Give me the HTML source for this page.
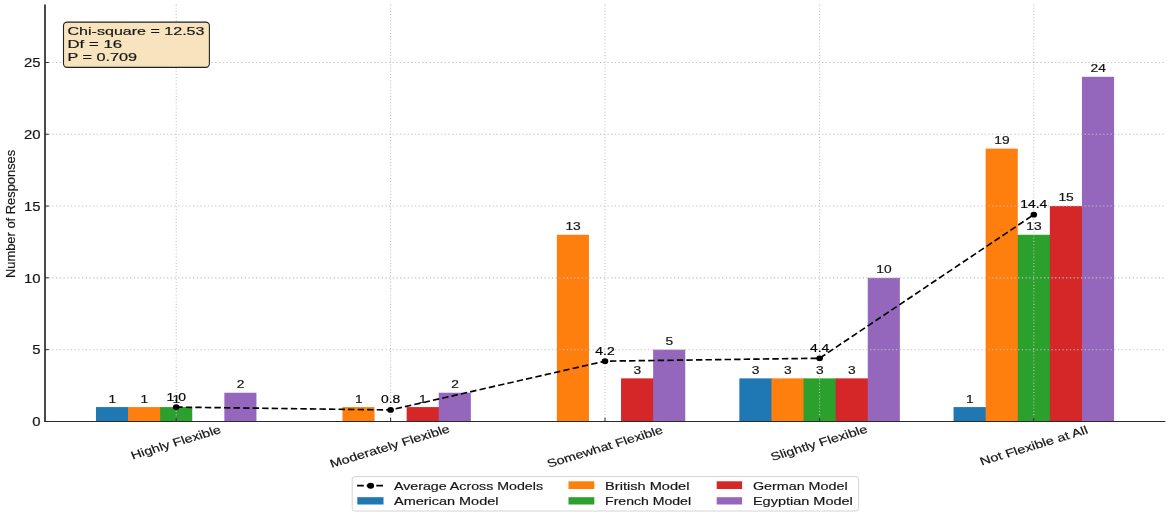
<!DOCTYPE html>
<html><head><meta charset="utf-8"><title>Chart</title>
<style>html,body{margin:0;padding:0;background:#fff;}body{width:1170px;height:516px;overflow:hidden;font-family:"Liberation Sans",sans-serif;}</style>
</head><body>
<svg width="1170" height="516" viewBox="0 0 1170 516" style="display:block;will-change:transform">
<rect x="0" y="0" width="1170" height="516" fill="#fff"/>
<rect x="95.95" y="407.09" width="33.10" height="14.66" fill="#1f77b4"/>
<rect x="128.05" y="407.09" width="33.10" height="14.66" fill="#ff7f0e"/>
<rect x="160.15" y="407.09" width="32.10" height="14.66" fill="#2ca02c"/>
<rect x="224.35" y="392.73" width="32.10" height="29.02" fill="#9467bd"/>
<rect x="342.45" y="407.09" width="32.10" height="14.66" fill="#ff7f0e"/>
<rect x="406.65" y="407.09" width="33.10" height="14.66" fill="#d62728"/>
<rect x="438.75" y="392.73" width="32.10" height="29.02" fill="#9467bd"/>
<rect x="556.85" y="234.77" width="32.10" height="186.98" fill="#ff7f0e"/>
<rect x="621.05" y="378.37" width="33.10" height="43.38" fill="#d62728"/>
<rect x="653.15" y="349.65" width="32.10" height="72.10" fill="#9467bd"/>
<rect x="739.35" y="378.37" width="33.10" height="43.38" fill="#1f77b4"/>
<rect x="771.45" y="378.37" width="33.10" height="43.38" fill="#ff7f0e"/>
<rect x="803.55" y="378.37" width="33.10" height="43.38" fill="#2ca02c"/>
<rect x="835.65" y="378.37" width="33.10" height="43.38" fill="#d62728"/>
<rect x="867.75" y="277.85" width="32.10" height="143.90" fill="#9467bd"/>
<rect x="953.55" y="407.09" width="33.10" height="14.66" fill="#1f77b4"/>
<rect x="985.65" y="148.61" width="32.10" height="86.39" fill="#ff7f0e"/>
<rect x="985.65" y="235" width="33.10" height="186.75" fill="#ff7f0e"/>
<rect x="1017.75" y="234.77" width="33.10" height="186.98" fill="#2ca02c"/>
<rect x="1049.85" y="206.05" width="33.10" height="215.70" fill="#d62728"/>
<rect x="1081.95" y="76.81" width="32.10" height="344.94" fill="#9467bd"/>
<line x1="45.0" y1="421.45" x2="1165.4" y2="421.45" stroke="#c0c0c0" stroke-width="1.05" stroke-dasharray="1.25 2.45"/>
<line x1="45.0" y1="349.65" x2="1165.4" y2="349.65" stroke="#c0c0c0" stroke-width="1.05" stroke-dasharray="1.25 2.45"/>
<line x1="45.0" y1="277.85" x2="1165.4" y2="277.85" stroke="#c0c0c0" stroke-width="1.05" stroke-dasharray="1.25 2.45"/>
<line x1="45.0" y1="206.05" x2="1165.4" y2="206.05" stroke="#c0c0c0" stroke-width="1.05" stroke-dasharray="1.25 2.45"/>
<line x1="45.0" y1="134.25" x2="1165.4" y2="134.25" stroke="#c0c0c0" stroke-width="1.05" stroke-dasharray="1.25 2.45"/>
<line x1="45.0" y1="62.45" x2="1165.4" y2="62.45" stroke="#c0c0c0" stroke-width="1.05" stroke-dasharray="1.25 2.45"/>
<line x1="176.20" y1="421.45" x2="176.20" y2="4.4" stroke="#c0c0c0" stroke-width="1.05" stroke-dasharray="1.05 2.1"/>
<line x1="390.60" y1="421.45" x2="390.60" y2="4.4" stroke="#c0c0c0" stroke-width="1.05" stroke-dasharray="1.05 2.1"/>
<line x1="605.00" y1="421.45" x2="605.00" y2="4.4" stroke="#c0c0c0" stroke-width="1.05" stroke-dasharray="1.05 2.1"/>
<line x1="819.60" y1="421.45" x2="819.60" y2="4.4" stroke="#c0c0c0" stroke-width="1.05" stroke-dasharray="1.05 2.1"/>
<line x1="1033.80" y1="421.45" x2="1033.80" y2="4.4" stroke="#c0c0c0" stroke-width="1.05" stroke-dasharray="1.05 2.1"/>
<line x1="45.0" y1="4.4" x2="45.0" y2="421.95" stroke="#2a2a2a" stroke-width="1.7"/>
<line x1="44.25" y1="421.45" x2="1165.4" y2="421.45" stroke="#2a2a2a" stroke-width="1.1"/>
<line x1="176.20" y1="421.45" x2="176.20" y2="417.65" stroke="#2a2a2a" stroke-width="1"/>
<line x1="390.60" y1="421.45" x2="390.60" y2="417.65" stroke="#2a2a2a" stroke-width="1"/>
<line x1="605.00" y1="421.45" x2="605.00" y2="417.65" stroke="#2a2a2a" stroke-width="1"/>
<line x1="819.60" y1="421.45" x2="819.60" y2="417.65" stroke="#2a2a2a" stroke-width="1"/>
<line x1="1033.80" y1="421.45" x2="1033.80" y2="417.65" stroke="#2a2a2a" stroke-width="1"/>
<line x1="45.0" y1="421.45" x2="48.8" y2="421.45" stroke="#2a2a2a" stroke-width="1"/>
<line x1="45.0" y1="349.65" x2="48.8" y2="349.65" stroke="#2a2a2a" stroke-width="1"/>
<line x1="45.0" y1="277.85" x2="48.8" y2="277.85" stroke="#2a2a2a" stroke-width="1"/>
<line x1="45.0" y1="206.05" x2="48.8" y2="206.05" stroke="#2a2a2a" stroke-width="1"/>
<line x1="45.0" y1="134.25" x2="48.8" y2="134.25" stroke="#2a2a2a" stroke-width="1"/>
<line x1="45.0" y1="62.45" x2="48.8" y2="62.45" stroke="#2a2a2a" stroke-width="1"/>
<polyline points="176.20,407.09 390.60,409.96 605.00,361.14 819.60,358.27 1033.80,214.67" fill="none" stroke="#000" stroke-width="1.65" stroke-dasharray="6.4 3.15"/>
<ellipse cx="176.20" cy="407.09" rx="3.3" ry="2.85" fill="#000"/>
<ellipse cx="390.60" cy="409.96" rx="3.3" ry="2.85" fill="#000"/>
<ellipse cx="605.00" cy="361.14" rx="3.3" ry="2.85" fill="#000"/>
<ellipse cx="819.60" cy="358.27" rx="3.3" ry="2.85" fill="#000"/>
<ellipse cx="1033.80" cy="214.67" rx="3.3" ry="2.85" fill="#000"/>
<g transform="translate(40.60,426.15) scale(1.0400,1)"><text x="0" y="0.00" font-size="12.73" font-family="Liberation Sans, sans-serif" text-anchor="end" fill="#161616" stroke="#161616" stroke-width="0.18" textLength="7.95" lengthAdjust="spacingAndGlyphs">0</text></g>
<g transform="translate(40.60,354.35) scale(1.0400,1)"><text x="0" y="0.00" font-size="12.73" font-family="Liberation Sans, sans-serif" text-anchor="end" fill="#161616" stroke="#161616" stroke-width="0.18" textLength="7.95" lengthAdjust="spacingAndGlyphs">5</text></g>
<g transform="translate(40.60,282.55) scale(1.0400,1)"><text x="0" y="0.00" font-size="12.73" font-family="Liberation Sans, sans-serif" text-anchor="end" fill="#161616" stroke="#161616" stroke-width="0.18" textLength="15.91" lengthAdjust="spacingAndGlyphs">10</text></g>
<g transform="translate(40.60,210.75) scale(1.0400,1)"><text x="0" y="0.00" font-size="12.73" font-family="Liberation Sans, sans-serif" text-anchor="end" fill="#161616" stroke="#161616" stroke-width="0.18" textLength="15.91" lengthAdjust="spacingAndGlyphs">15</text></g>
<g transform="translate(40.60,138.95) scale(1.0400,1)"><text x="0" y="0.00" font-size="12.73" font-family="Liberation Sans, sans-serif" text-anchor="end" fill="#161616" stroke="#161616" stroke-width="0.18" textLength="15.91" lengthAdjust="spacingAndGlyphs">20</text></g>
<g transform="translate(40.60,67.15) scale(1.0400,1)"><text x="0" y="0.00" font-size="12.73" font-family="Liberation Sans, sans-serif" text-anchor="end" fill="#161616" stroke="#161616" stroke-width="0.18" textLength="15.91" lengthAdjust="spacingAndGlyphs">25</text></g>
<g transform="translate(112.20,402.69) scale(1.1157,1)"><text x="0" y="0.00" font-size="11.00" font-family="Liberation Sans, sans-serif" text-anchor="middle" fill="#161616" stroke="#161616" stroke-width="0.18" textLength="6.87" lengthAdjust="spacingAndGlyphs">1</text></g>
<g transform="translate(144.30,402.69) scale(1.1157,1)"><text x="0" y="0.00" font-size="11.00" font-family="Liberation Sans, sans-serif" text-anchor="middle" fill="#161616" stroke="#161616" stroke-width="0.18" textLength="6.87" lengthAdjust="spacingAndGlyphs">1</text></g>
<g transform="translate(176.40,402.69) scale(1.1157,1)"><text x="0" y="0.00" font-size="11.00" font-family="Liberation Sans, sans-serif" text-anchor="middle" fill="#161616" stroke="#161616" stroke-width="0.18" textLength="6.87" lengthAdjust="spacingAndGlyphs">1</text></g>
<g transform="translate(240.60,387.93) scale(1.1157,1)"><text x="0" y="0.00" font-size="11.00" font-family="Liberation Sans, sans-serif" text-anchor="middle" fill="#161616" stroke="#161616" stroke-width="0.18" textLength="6.87" lengthAdjust="spacingAndGlyphs">2</text></g>
<g transform="translate(358.70,402.69) scale(1.1157,1)"><text x="0" y="0.00" font-size="11.00" font-family="Liberation Sans, sans-serif" text-anchor="middle" fill="#161616" stroke="#161616" stroke-width="0.18" textLength="6.87" lengthAdjust="spacingAndGlyphs">1</text></g>
<g transform="translate(422.90,402.69) scale(1.1157,1)"><text x="0" y="0.00" font-size="11.00" font-family="Liberation Sans, sans-serif" text-anchor="middle" fill="#161616" stroke="#161616" stroke-width="0.18" textLength="6.87" lengthAdjust="spacingAndGlyphs">1</text></g>
<g transform="translate(455.00,387.93) scale(1.1157,1)"><text x="0" y="0.00" font-size="11.00" font-family="Liberation Sans, sans-serif" text-anchor="middle" fill="#161616" stroke="#161616" stroke-width="0.18" textLength="6.87" lengthAdjust="spacingAndGlyphs">2</text></g>
<g transform="translate(573.10,229.77) scale(1.1157,1)"><text x="0" y="0.00" font-size="11.00" font-family="Liberation Sans, sans-serif" text-anchor="middle" fill="#161616" stroke="#161616" stroke-width="0.18" textLength="13.74" lengthAdjust="spacingAndGlyphs">13</text></g>
<g transform="translate(637.30,374.42) scale(1.1157,1)"><text x="0" y="0.00" font-size="11.00" font-family="Liberation Sans, sans-serif" text-anchor="middle" fill="#161616" stroke="#161616" stroke-width="0.18" textLength="6.87" lengthAdjust="spacingAndGlyphs">3</text></g>
<g transform="translate(669.40,344.65) scale(1.1157,1)"><text x="0" y="0.00" font-size="11.00" font-family="Liberation Sans, sans-serif" text-anchor="middle" fill="#161616" stroke="#161616" stroke-width="0.18" textLength="6.87" lengthAdjust="spacingAndGlyphs">5</text></g>
<g transform="translate(755.60,374.42) scale(1.1157,1)"><text x="0" y="0.00" font-size="11.00" font-family="Liberation Sans, sans-serif" text-anchor="middle" fill="#161616" stroke="#161616" stroke-width="0.18" textLength="6.87" lengthAdjust="spacingAndGlyphs">3</text></g>
<g transform="translate(787.70,374.42) scale(1.1157,1)"><text x="0" y="0.00" font-size="11.00" font-family="Liberation Sans, sans-serif" text-anchor="middle" fill="#161616" stroke="#161616" stroke-width="0.18" textLength="6.87" lengthAdjust="spacingAndGlyphs">3</text></g>
<g transform="translate(819.80,374.42) scale(1.1157,1)"><text x="0" y="0.00" font-size="11.00" font-family="Liberation Sans, sans-serif" text-anchor="middle" fill="#161616" stroke="#161616" stroke-width="0.18" textLength="6.87" lengthAdjust="spacingAndGlyphs">3</text></g>
<g transform="translate(851.90,374.42) scale(1.1157,1)"><text x="0" y="0.00" font-size="11.00" font-family="Liberation Sans, sans-serif" text-anchor="middle" fill="#161616" stroke="#161616" stroke-width="0.18" textLength="6.87" lengthAdjust="spacingAndGlyphs">3</text></g>
<g transform="translate(884.00,272.95) scale(1.1157,1)"><text x="0" y="0.00" font-size="11.00" font-family="Liberation Sans, sans-serif" text-anchor="middle" fill="#161616" stroke="#161616" stroke-width="0.18" textLength="13.74" lengthAdjust="spacingAndGlyphs">10</text></g>
<g transform="translate(969.80,402.69) scale(1.1157,1)"><text x="0" y="0.00" font-size="11.00" font-family="Liberation Sans, sans-serif" text-anchor="middle" fill="#161616" stroke="#161616" stroke-width="0.18" textLength="6.87" lengthAdjust="spacingAndGlyphs">1</text></g>
<g transform="translate(1001.90,143.61) scale(1.1157,1)"><text x="0" y="0.00" font-size="11.00" font-family="Liberation Sans, sans-serif" text-anchor="middle" fill="#161616" stroke="#161616" stroke-width="0.18" textLength="13.74" lengthAdjust="spacingAndGlyphs">19</text></g>
<g transform="translate(1034.00,229.77) scale(1.1157,1)"><text x="0" y="0.00" font-size="11.00" font-family="Liberation Sans, sans-serif" text-anchor="middle" fill="#161616" stroke="#161616" stroke-width="0.18" textLength="13.74" lengthAdjust="spacingAndGlyphs">13</text></g>
<g transform="translate(1066.10,201.30) scale(1.1157,1)"><text x="0" y="0.00" font-size="11.00" font-family="Liberation Sans, sans-serif" text-anchor="middle" fill="#161616" stroke="#161616" stroke-width="0.18" textLength="13.74" lengthAdjust="spacingAndGlyphs">15</text></g>
<g transform="translate(1098.20,71.71) scale(1.1157,1)"><text x="0" y="0.00" font-size="11.00" font-family="Liberation Sans, sans-serif" text-anchor="middle" fill="#161616" stroke="#161616" stroke-width="0.18" textLength="13.74" lengthAdjust="spacingAndGlyphs">24</text></g>
<g transform="translate(176.20,400.69) scale(1.1250,1)"><text x="0" y="0.00" font-size="11.00" font-family="Liberation Sans, sans-serif" text-anchor="middle" fill="#000" stroke="#000" stroke-width="0.18" textLength="17.18" lengthAdjust="spacingAndGlyphs">1.0</text></g>
<g transform="translate(390.60,403.26) scale(1.1250,1)"><text x="0" y="0.00" font-size="11.00" font-family="Liberation Sans, sans-serif" text-anchor="middle" fill="#000" stroke="#000" stroke-width="0.18" textLength="17.18" lengthAdjust="spacingAndGlyphs">0.8</text></g>
<g transform="translate(605.00,354.54) scale(1.1250,1)"><text x="0" y="0.00" font-size="11.00" font-family="Liberation Sans, sans-serif" text-anchor="middle" fill="#000" stroke="#000" stroke-width="0.18" textLength="17.18" lengthAdjust="spacingAndGlyphs">4.2</text></g>
<g transform="translate(819.60,351.77) scale(1.1250,1)"><text x="0" y="0.00" font-size="11.00" font-family="Liberation Sans, sans-serif" text-anchor="middle" fill="#000" stroke="#000" stroke-width="0.18" textLength="17.18" lengthAdjust="spacingAndGlyphs">4.4</text></g>
<g transform="translate(1033.80,207.92) scale(1.1250,1)"><text x="0" y="0.00" font-size="11.00" font-family="Liberation Sans, sans-serif" text-anchor="middle" fill="#000" stroke="#000" stroke-width="0.18" textLength="24.05" lengthAdjust="spacingAndGlyphs">14.4</text></g>
<g transform="translate(176.10,443.20) scale(1.1727,1) rotate(-19.5)"><text x="0" y="3.03" font-size="11.20" font-family="Liberation Sans, sans-serif" text-anchor="middle" fill="#161616" stroke="#161616" stroke-width="0.18" textLength="80.67" lengthAdjust="spacingAndGlyphs">Highly Flexible</text></g>
<g transform="translate(390.00,447.00) scale(1.1727,1) rotate(-19.5)"><text x="0" y="3.03" font-size="11.20" font-family="Liberation Sans, sans-serif" text-anchor="middle" fill="#161616" stroke="#161616" stroke-width="0.18" textLength="107.71" lengthAdjust="spacingAndGlyphs">Moderately Flexible</text></g>
<g transform="translate(604.80,446.50) scale(1.1727,1) rotate(-19.5)"><text x="0" y="4.18" font-size="11.20" font-family="Liberation Sans, sans-serif" text-anchor="middle" fill="#161616" stroke="#161616" stroke-width="0.18" textLength="104.04" lengthAdjust="spacingAndGlyphs">Somewhat Flexible</text></g>
<g transform="translate(819.20,443.70) scale(1.1727,1) rotate(-19.5)"><text x="0" y="3.03" font-size="11.20" font-family="Liberation Sans, sans-serif" text-anchor="middle" fill="#161616" stroke="#161616" stroke-width="0.18" textLength="86.75" lengthAdjust="spacingAndGlyphs">Slightly Flexible</text></g>
<g transform="translate(1033.60,445.30) scale(1.1727,1) rotate(-19.5)"><text x="0" y="4.18" font-size="11.20" font-family="Liberation Sans, sans-serif" text-anchor="middle" fill="#161616" stroke="#161616" stroke-width="0.18" textLength="96.78" lengthAdjust="spacingAndGlyphs">Not Flexible at All</text></g>
<g transform="translate(14.7,213.9) rotate(-90)"><g transform="translate(0.00,0.00) scale(0.9767,1)"><text x="0" y="0.00" font-size="12.22" font-family="Liberation Sans, sans-serif" text-anchor="middle" fill="#161616" stroke="#161616" stroke-width="0.18" textLength="131.29" lengthAdjust="spacingAndGlyphs">Number of Responses</text></g></g>
<rect x="63.5" y="22.1" width="145.9" height="45.3" rx="3.6" ry="3.6" fill="#f7e3bd" stroke="#222" stroke-width="1.1"/>
<g transform="translate(67.50,34.65) scale(1.2368,1)"><text x="0" y="0.00" font-size="11.61" font-family="Liberation Sans, sans-serif" text-anchor="start" fill="#161616" stroke="#161616" stroke-width="0.18" textLength="110.74" lengthAdjust="spacingAndGlyphs">Chi-square = 12.53</text></g>
<g transform="translate(67.50,47.95) scale(1.2368,1)"><text x="0" y="0.00" font-size="11.61" font-family="Liberation Sans, sans-serif" text-anchor="start" fill="#161616" stroke="#161616" stroke-width="0.18" textLength="44.10" lengthAdjust="spacingAndGlyphs">Df = 16</text></g>
<g transform="translate(67.50,61.40) scale(1.2368,1)"><text x="0" y="0.00" font-size="11.61" font-family="Liberation Sans, sans-serif" text-anchor="start" fill="#161616" stroke="#161616" stroke-width="0.18" textLength="56.31" lengthAdjust="spacingAndGlyphs">P = 0.709</text></g>
<rect x="352.2" y="476.6" width="506.4" height="34.4" rx="2.6" ry="2.6" fill="#fff" stroke="#d4d4d4" stroke-width="1"/>
<line x1="357.1" y1="485.7" x2="383.0" y2="485.7" stroke="#000" stroke-width="1.8" stroke-dasharray="6.7 2.9"/>
<ellipse cx="370.6" cy="485.7" rx="3.5" ry="2.95" fill="#000"/>
<g transform="translate(394.00,489.50) scale(1.1862,1)"><text x="0" y="0.00" font-size="11.10" font-family="Liberation Sans, sans-serif" text-anchor="start" fill="#161616" stroke="#161616" stroke-width="0.18" textLength="125.62" lengthAdjust="spacingAndGlyphs">Average Across Models</text></g>
<rect x="357.3" y="497.2" width="26.2" height="7.3" fill="#1f77b4"/>
<g transform="translate(394.00,505.25) scale(1.1862,1)"><text x="0" y="0.00" font-size="11.10" font-family="Liberation Sans, sans-serif" text-anchor="start" fill="#161616" stroke="#161616" stroke-width="0.18" textLength="88.06" lengthAdjust="spacingAndGlyphs">American Model</text></g>
<rect x="568.5" y="481.3" width="25.8" height="7.7" fill="#ff7f0e"/>
<g transform="translate(605.10,489.50) scale(1.1862,1)"><text x="0" y="0.00" font-size="11.10" font-family="Liberation Sans, sans-serif" text-anchor="start" fill="#161616" stroke="#161616" stroke-width="0.18" textLength="71.07" lengthAdjust="spacingAndGlyphs">British Model</text></g>
<rect x="568.5" y="497.2" width="25.8" height="7.3" fill="#2ca02c"/>
<g transform="translate(605.10,505.25) scale(1.1862,1)"><text x="0" y="0.00" font-size="11.10" font-family="Liberation Sans, sans-serif" text-anchor="start" fill="#161616" stroke="#161616" stroke-width="0.18" textLength="72.43" lengthAdjust="spacingAndGlyphs">French Model</text></g>
<rect x="716.7" y="481.3" width="25.4" height="7.7" fill="#d62728"/>
<g transform="translate(752.90,489.50) scale(1.1862,1)"><text x="0" y="0.00" font-size="11.10" font-family="Liberation Sans, sans-serif" text-anchor="start" fill="#161616" stroke="#161616" stroke-width="0.18" textLength="79.84" lengthAdjust="spacingAndGlyphs">German Model</text></g>
<rect x="716.7" y="497.2" width="25.4" height="7.3" fill="#9467bd"/>
<g transform="translate(752.90,505.25) scale(1.1862,1)"><text x="0" y="0.00" font-size="11.10" font-family="Liberation Sans, sans-serif" text-anchor="start" fill="#161616" stroke="#161616" stroke-width="0.18" textLength="84.26" lengthAdjust="spacingAndGlyphs">Egyptian Model</text></g>
</svg>
</body></html>
